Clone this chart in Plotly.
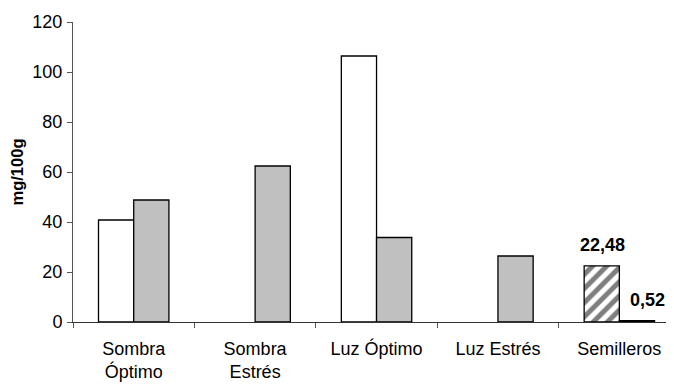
import plotly.graph_objects as go

categories = ["Sombra<br>Óptimo", "Sombra<br>Estrés", "Luz Óptimo", "Luz Estrés", "Semilleros"]
serie_a = [40.8, None, 106.4, None, 22.48]
serie_b = [48.8, 62.4, 33.8, 26.4, 0.52]
labels_semilleros = ["22,48", "0,52"]

FONT = "Liberation Sans, Arial"

fig = go.Figure()

# primera serie: blanca, con rayado en Semilleros
fig.add_trace(go.Bar(
    x=categories,
    y=serie_a,
    marker=dict(
        color="white",
        line=dict(color="black", width=1.3),
        pattern=dict(shape=["", "", "", "", "/"], fgcolor="black",
                     bgcolor="white", size=10, solidity=0.5),
    ),
    showlegend=False,
))

# segunda serie: gris
fig.add_trace(go.Bar(
    x=categories,
    y=serie_b,
    marker=dict(color=["#c0c0c0"] * 4 + ["black"], line=dict(color="black", width=1.3)),
    showlegend=False,
))

# etiquetas de Semilleros
for val, txt, dx in zip([serie_a[4], serie_b[4]], labels_semilleros, [-17, 28]):
    fig.add_annotation(
        x=categories[4], y=val, text="<b>" + txt + "</b>",
        showarrow=False, xshift=dx, yshift=21, yanchor="middle",
        font=dict(family=FONT, size=18, color="black"),
    )

fig.update_layout(
    width=666,
    height=377,
    barmode="group",
    bargap=0.42,
    bargroupgap=0,
    plot_bgcolor="white",
    paper_bgcolor="white",
    margin=dict(l=65, r=0, t=14, b=63),
    font=dict(family=FONT, size=18, color="black"),
)

fig.update_xaxes(
    range=[-0.5, 4.45],
    showline=True,
    linecolor="#333333",
    linewidth=1,
    ticks="outside",
    tickson="boundaries",
    ticklen=5,
    tickcolor="#555555",
    ticklabelstandoff=10,
    showgrid=False,
    tickfont=dict(size=18),
)

fig.update_yaxes(
    range=[0, 120],
    dtick=20,
    showline=True,
    linecolor="#555555",
    linewidth=1,
    ticks="outside",
    ticklen=5,
    tickcolor="#555555",
    ticklabelstandoff=1,
    showgrid=False,
    zeroline=False,
    tickfont=dict(size=18),
    title=dict(text="<b>mg/100g</b>", font=dict(size=16.5), standoff=8),
)

fig.write_html("out.html")
